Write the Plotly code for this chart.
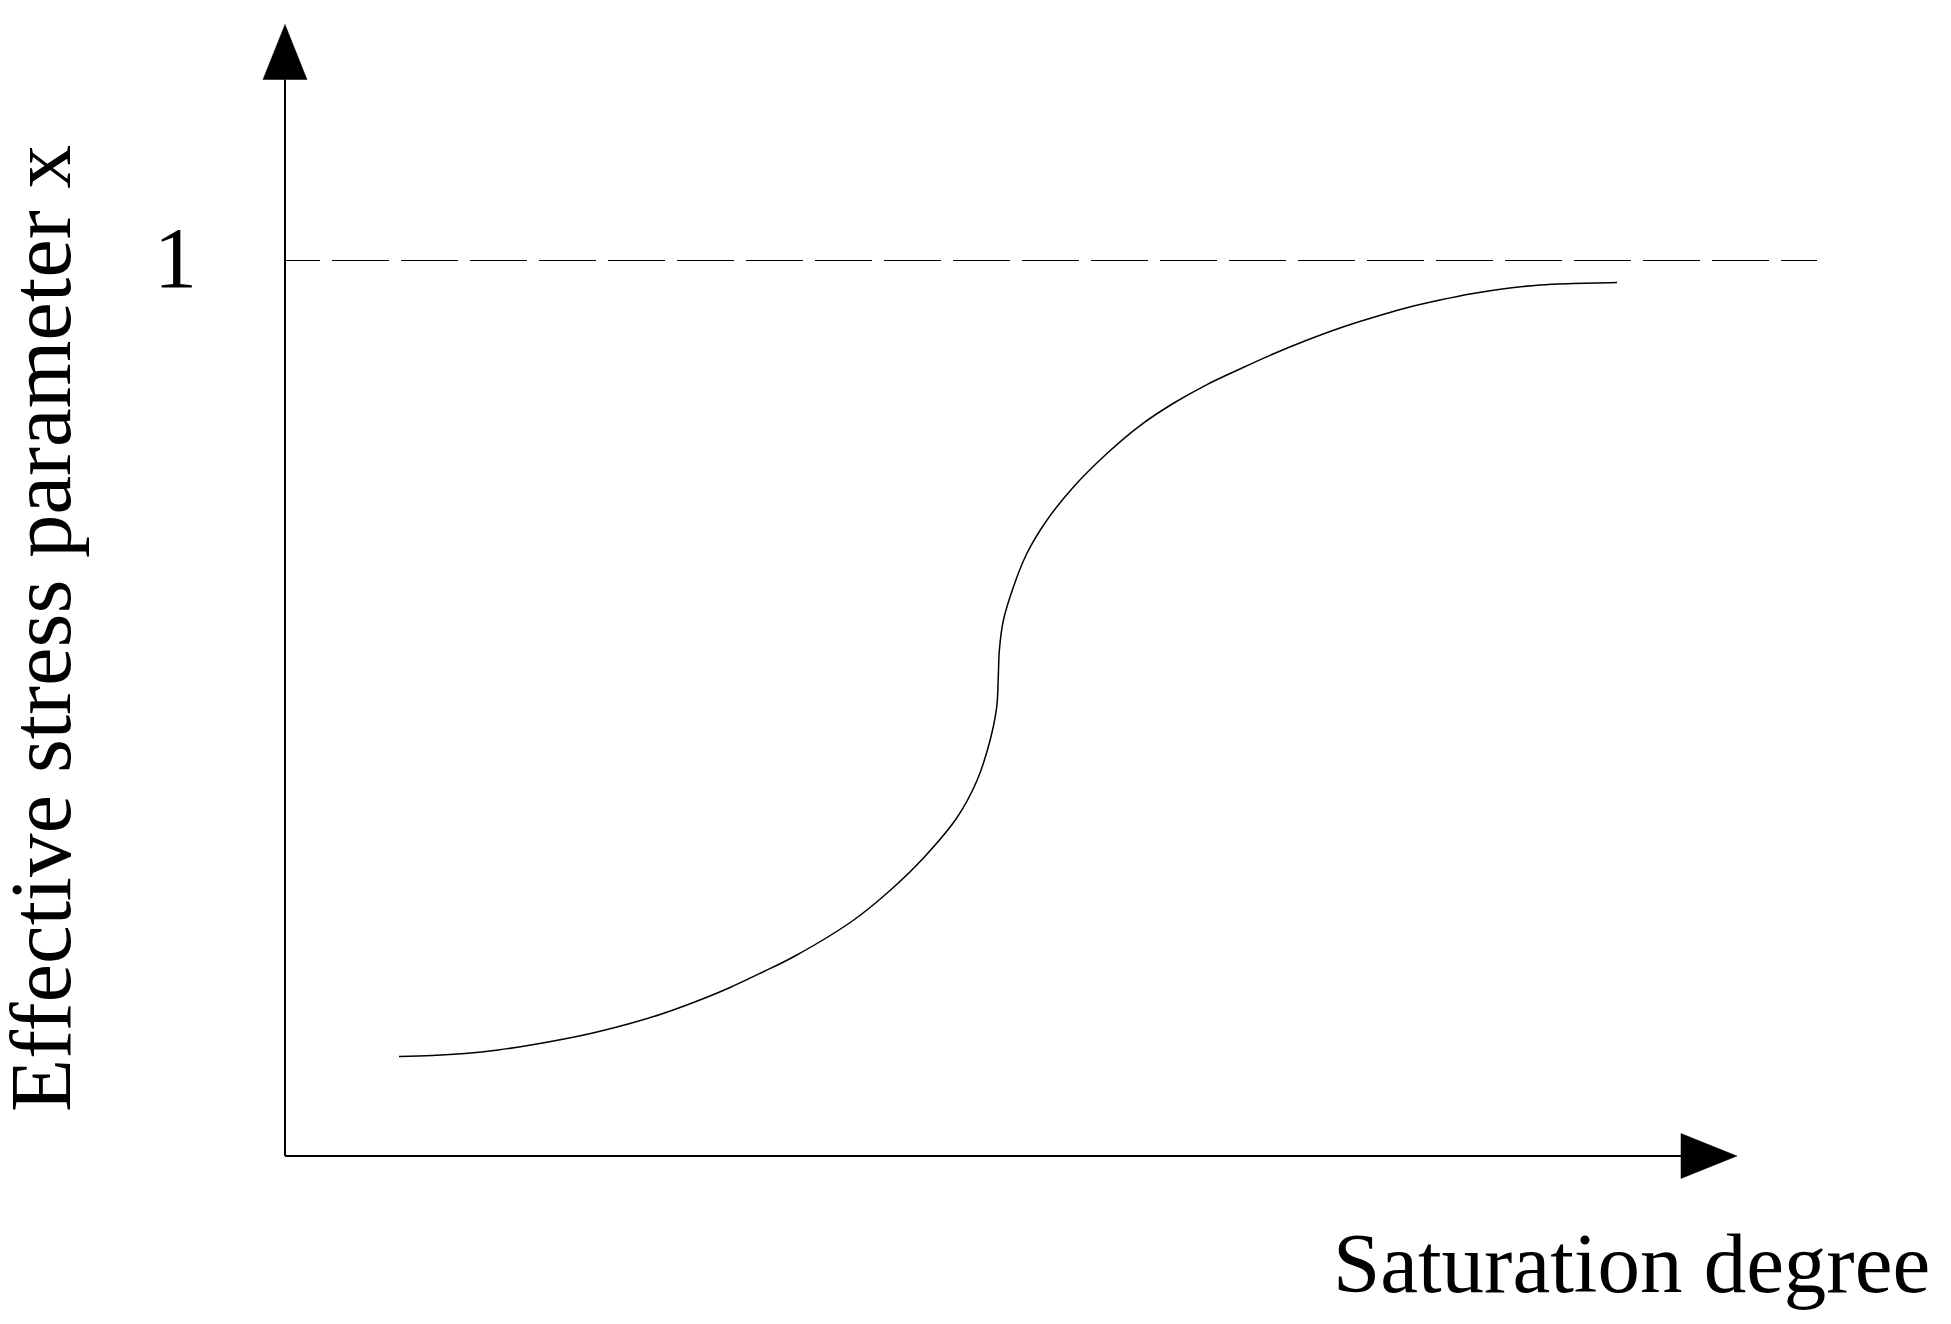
import plotly.graph_objects as go

# ---- data ----
saturation = [0.0857, 0.1105, 0.1353, 0.1602, 0.1850, 0.2098, 0.2346, 0.2594, 0.2842, 0.3090,
              0.3338, 0.3586, 0.3835, 0.4271, 0.4549, 0.4797, 0.5053, 0.5203, 0.5301, 0.5351,
              0.5363, 0.5371, 0.5401, 0.5476, 0.5577, 0.5727, 0.5925, 0.6180,
              0.6429, 0.6677, 0.6925, 0.7180, 0.7429, 0.7677, 0.7932, 0.8180, 0.8429, 0.8684,
              0.8932, 0.9180, 0.9436, 0.9684, 1.0015]
chi = [0.1116, 0.1127, 0.1150, 0.1189, 0.1244, 0.1311, 0.1390, 0.1484, 0.1596, 0.1730,
       0.1881, 0.2054, 0.2238, 0.2634, 0.2969, 0.3326, 0.3783, 0.4196, 0.4643, 0.5015,
       0.5349, 0.5647, 0.5982, 0.6354, 0.6727, 0.7098, 0.7467, 0.7846,
       0.8158, 0.8404, 0.8610, 0.8789, 0.8956, 0.9107, 0.9247, 0.9364, 0.9470, 0.9559,
       0.9632, 0.9688, 0.9727, 0.9743, 0.9754]
ref_level = 1.0
tick_vals = [1]
tick_text = ["1"]
x_title = "Saturation degree"
y_title = "Effective stress parameter x"

# ---- axis geometry (data units) ----
X_RANGE = [-0.10150, 1.17669]
Y_RANGE = [-0.04855, 1.27958]
X_AXIS_Y = 0.00056
X_AXIS_END = 1.0496
X_ARROW_TIP = 1.0917
X_ARROW_HALF = 0.0251
Y_AXIS_END = 1.2020
Y_ARROW_TIP = 1.2634
Y_ARROW_HALF = 0.01654
DASH_END = 1.1519
DASH_PATTERN = "35px,12px," + ",".join(["57px,12px"] * 23)

FONT = "Liberation Serif, Times New Roman, serif"

fig = go.Figure()

# dashed reference line at x = 1
fig.add_trace(go.Scatter(
    x=[0, DASH_END], y=[ref_level, ref_level], mode="lines",
    line=dict(color="black", width=1, dash=DASH_PATTERN), hoverinfo="skip", showlegend=False))

# curve
fig.add_trace(go.Scatter(
    x=saturation, y=chi, mode="lines",
    line=dict(color="black", width=1.5, shape="spline", smoothing=1.0),
    showlegend=False))

shapes = [
    dict(type="line", xref="x", yref="y", x0=0, y0=X_AXIS_Y, x1=0, y1=Y_AXIS_END,
         line=dict(color="black", width=2)),
    dict(type="line", xref="x", yref="y", x0=0, y0=X_AXIS_Y, x1=X_AXIS_END, y1=X_AXIS_Y,
         line=dict(color="black", width=2)),
    dict(type="path", xref="x", yref="y",
         path=f"M {-Y_ARROW_HALF} {Y_AXIS_END} L {Y_ARROW_HALF} {Y_AXIS_END} L 0 {Y_ARROW_TIP} Z",
         fillcolor="black", line=dict(color="black", width=0.5)),
    dict(type="path", xref="x", yref="y",
         path=f"M {X_AXIS_END} {X_AXIS_Y - X_ARROW_HALF} L {X_AXIS_END} {X_AXIS_Y + X_ARROW_HALF} "
              f"L {X_ARROW_TIP} {X_AXIS_Y} Z",
         fillcolor="black", line=dict(color="black", width=0.5)),
]

annotations = [
    dict(x=-0.0647, y=tick_vals[0] + 0.003, xref="x", yref="y", text=tick_text[0], showarrow=False,
         xanchor="right", yanchor="middle", font=dict(family=FONT, size=86, color="black")),
    dict(x=1.0482, y=-0.0529, xref="paper", yref="paper", text=x_title, showarrow=False,
         xanchor="right", yanchor="middle", font=dict(family=FONT, size=85, color="black")),
    dict(x=-0.0647, y=0.4798, xref="paper", yref="paper", text=y_title, showarrow=False,
         textangle=-90, xanchor="center", yanchor="middle",
         font=dict(family=FONT, size=87, color="black")),
]

fig.update_layout(
    width=1935, height=1308, autosize=False,
    margin=dict(l=142, r=93, t=2, b=116),
    paper_bgcolor="white", plot_bgcolor="white",
    xaxis=dict(range=X_RANGE, visible=False, fixedrange=True),
    yaxis=dict(range=Y_RANGE, visible=False, fixedrange=True),
    shapes=shapes, annotations=annotations, showlegend=False,
)

fig.write_html("out.html")
